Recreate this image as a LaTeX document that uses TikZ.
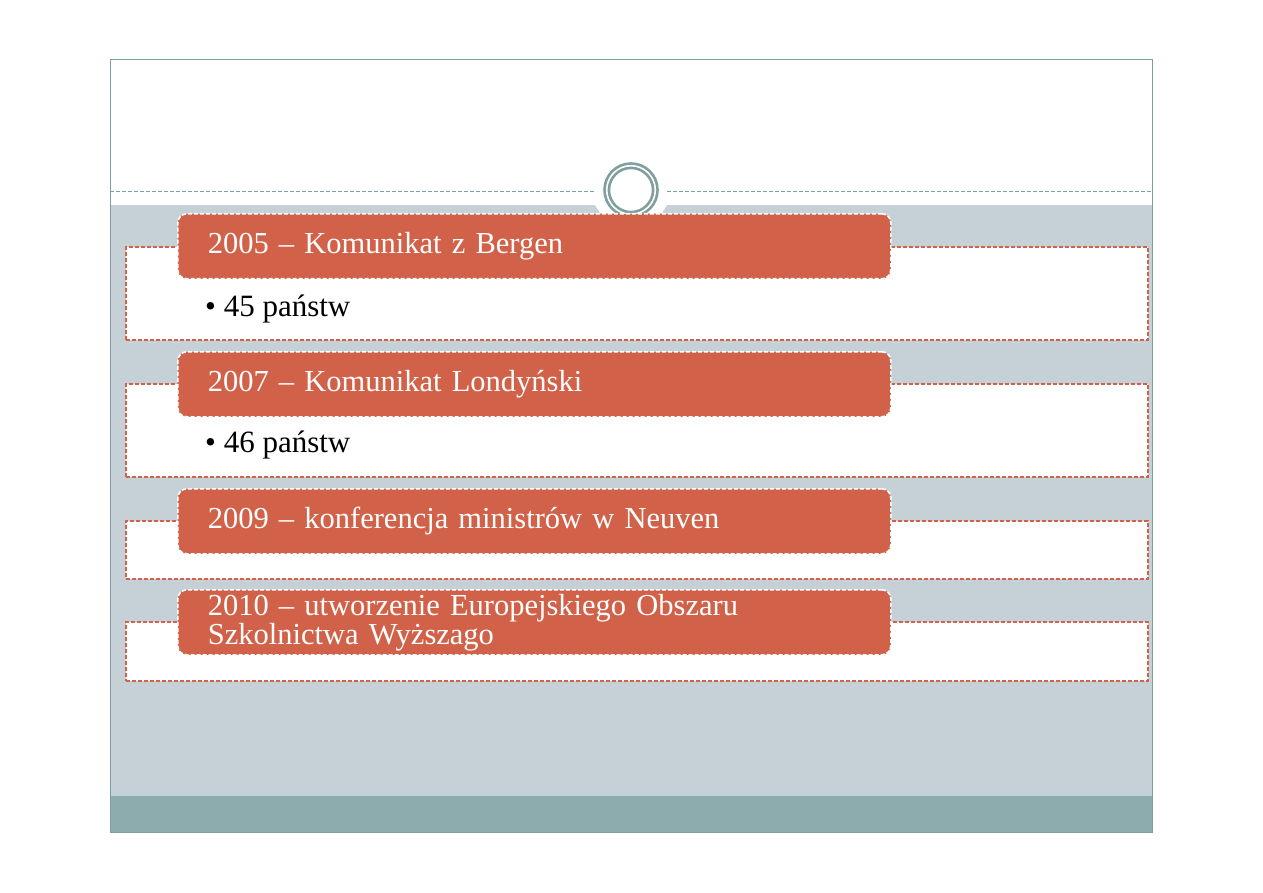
\documentclass[tikz,border=0pt]{standalone}
\usepackage{fontspec}
\setmainfont{Liberation Serif}
\usetikzlibrary{positioning}
\definecolor{slideband}{HTML}{C5D1D6}
\definecolor{slidefoot}{HTML}{8DACAD}
\definecolor{slideedge}{HTML}{7F9F9F}
\definecolor{headfill}{HTML}{D16249}
\begin{document}
\begin{tikzpicture}[x=1pt,y=-1pt,every node/.style={inner sep=0pt}]
\tikzset{panel/.style={draw=headfill,fill=white,line width=1.6pt,dash pattern=on 4pt off 2pt,minimum width=1022pt,anchor=north west},
head/.style={draw=white,fill=headfill,line width=1.6pt,dash pattern=on 4pt off 2pt,rounded corners=9pt,minimum width=713pt,minimum height=65pt,anchor=north west,inner xsep=30pt,text width=653pt,align=left,text=white,font=\fontsize{30.5}{29}\selectfont},
bullet/.style={anchor=west,font=\fontsize{31}{31}\selectfont}}
\useasboundingbox (0,0) rectangle (1263,893);
\fill[white] (0,0) rectangle (1263,893);
% slide background
\fill[slideband] (110,205) rectangle (1152,796);
\fill[slidefoot] (110,796) rectangle (1152,832);
\fill[white] (595,205) -- (667,205) -- (662,213) -- (600,213) -- cycle;
\draw[slideedge,line width=0.8pt,dash pattern=on 4pt off 2pt] (110,191) -- (595,191);
\draw[slideedge,line width=0.8pt,dash pattern=on 4pt off 2pt] (667,191) -- (1152,191);
\node[circle,draw=slideedge,fill=white,line width=2.7pt,double=white,double distance=1.6pt,minimum size=48.6pt](ring) at (631,190){};

\node[panel,minimum height=93pt](p1) at (125,246){};
\node[panel,minimum height=93pt](p2) at (125,383){};
\node[panel,minimum height=58pt](p3) at (125,520){};
\node[panel,minimum height=59pt](p4) at (125,621){};

\node[head](h1) at (177,213){2005 – Komunikat z Bergen};
\node[head](h2) at (177,351){2007 – Komunikat Londyński};
\node[head](h3) at (177,488){2009 – konferencja ministrów w Neuven};
\node[head](h4) at (177,589){2010 – utworzenie Europejskiego Obszaru\\Szkolnictwa Wyższago};

\node[bullet](b1) at (205,309){• 45 państw};
\node[bullet](b2) at (205,445){• 46 państw};

\draw[slideedge,line width=0.8pt] (110,59) rectangle (1152,832);
\end{tikzpicture}
\end{document}
